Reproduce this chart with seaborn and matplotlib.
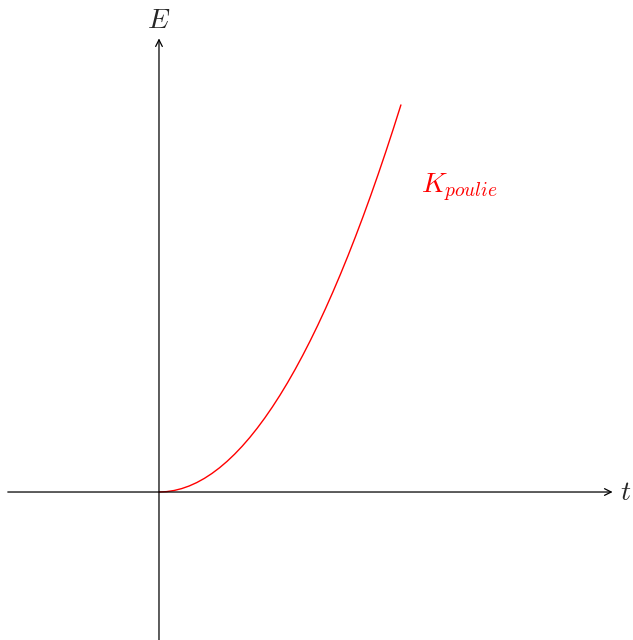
import matplotlib
matplotlib.use("Agg")
import matplotlib.pyplot as plt
import seaborn as sns

# values (1 unit = 1 cm of the drawing)
t = [0.0, 0.2, 0.4, 0.6, 0.8, 1.0, 1.2, 1.4, 1.6, 1.8, 2.0, 2.2, 2.4, 2.6, 2.8, 3.0, 3.2,
     3.4, 3.6, 3.8, 4.0, 4.2, 4.4, 4.6, 4.8, 5.0, 5.2, 5.4, 5.6, 5.8, 6.0, 6.2, 6.4]
E = [0.0, 0.01, 0.04, 0.09, 0.16, 0.25, 0.36, 0.49, 0.64, 0.81, 1.0, 1.21, 1.44, 1.69,
     1.96, 2.25, 2.56, 2.89, 3.24, 3.61, 4.0, 4.41, 4.84, 5.29, 5.76, 6.25, 6.76, 7.29,
     7.84, 8.41, 9.0, 9.61, 10.24]
x_axis = (-4.0, 12.0)
y_axis = (-4.0, 12.0)
curve_label = r"$K_{poulie}$"

sns.set_theme(style="white")
plt.rcParams["mathtext.fontset"] = "cm"

fig = plt.figure(figsize=(6.33, 6.4), dpi=100)
ax = fig.add_axes([0, 0, 1, 1])

# axes with arrow heads
ax.annotate("", xy=(x_axis[1], 0), xytext=(x_axis[0], 0),
            arrowprops=dict(arrowstyle="->", color="black", lw=0.9, shrinkA=0, shrinkB=0))
ax.annotate("", xy=(0, y_axis[1]), xytext=(0, y_axis[0]),
            arrowprops=dict(arrowstyle="->", color="black", lw=0.9, shrinkA=0, shrinkB=0))

sns.lineplot(x=t, y=E, color="red", lw=1.0, ax=ax, sort=False)

ax.text(0, 12.5, r"$E$", fontsize=20, ha="center", va="center")
ax.text(12.35, 0, r"$t$", fontsize=20, ha="center", va="center")
ax.text(7.96, 8.04, curve_label, fontsize=20, color="red", ha="center", va="center")

ax.set_xlim(-4.206, 12.54)
ax.set_ylim(-3.915, 13.016)
ax.axis("off")

fig.savefig("out.png", dpi=100)
